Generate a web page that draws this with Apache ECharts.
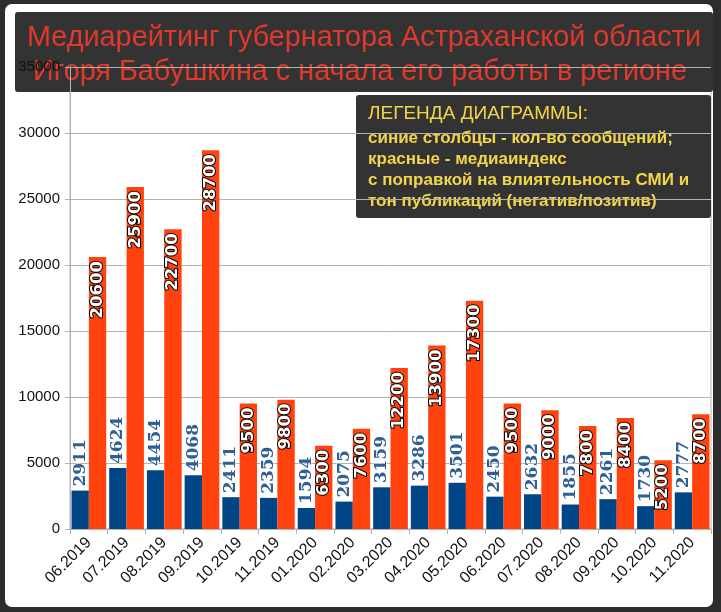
<!DOCTYPE html>
<html>
<head>
<meta charset="utf-8">
<script src="https://cdn.jsdelivr.net/npm/echarts@6/dist/echarts.min.js"></script>
<style>
  html, body { margin: 0; padding: 0; background: #2d2d2d; }
  #chart { width: 721px; height: 612px; }
</style>
</head>
<body>
<div id="chart"></div>
<script>
// месяцы
const months = [
  '06.2019', '07.2019', '08.2019', '09.2019', '10.2019', '11.2019',
  '01.2020', '02.2020', '03.2020', '04.2020', '05.2020', '06.2020',
  '07.2020', '08.2020', '09.2020', '10.2020', '11.2020'
];
// кол-во сообщений (синие)
const messages = [2911, 4624, 4454, 4068, 2411, 2359, 1594, 2075, 3159, 3286, 3501, 2450, 2632, 1855, 2261, 1730, 2777];
// медиаиндекс (красные)
const mediaIndex = [20600, 25900, 22700, 28700, 9500, 9800, 6300, 7600, 12200, 13900, 17300, 9500, 9000, 7800, 8400, 5200, 8700];

const titleLines = [
  'Медиарейтинг губернатора Астраханской области',
  'Игоря Бабушкина с начала его работы в регионе'
];
const legendHead = 'ЛЕГЕНДА ДИАГРАММЫ:';
const legendLines = [
  'синие столбцы - кол-во сообщений;',
  'красные - медиаиндекс',
  'с поправкой на влиятельность СМИ и',
  'тон публикаций (негатив/позитив)'
];

const chart = echarts.init(document.getElementById('chart'));

const option = {
  backgroundColor: '#2d2d2d',
  animation: false,
  grid: {
    left: 70,
    right: 10,
    top: 67,
    bottom: 83,
    show: true,
    borderColor: '#b3b3b3',
    borderWidth: 1
  },
  xAxis: {
    type: 'category',
    data: months,
    axisLine: { lineStyle: { color: '#b3b3b3' } },
    axisTick: { show: true, length: 5, lineStyle: { color: '#b3b3b3' } },
    axisLabel: {
      rotate: 45,
      interval: 0,
      color: '#111',
      fontFamily: 'Liberation Sans',
      fontSize: 16,
      margin: 11
    }
  },
  yAxis: {
    type: 'value',
    min: 0,
    max: 35000,
    interval: 5000,
    axisLine: { show: true, lineStyle: { color: '#b3b3b3' } },
    axisTick: { show: true, length: 5, lineStyle: { color: '#b3b3b3' } },
    axisLabel: {
      color: '#111',
      fontFamily: 'Liberation Sans',
      fontSize: 15,
      margin: 10,
      formatter: (v) => String(v)
    },
    splitLine: { lineStyle: { color: '#b3b3b3' } }
  },
  series: [
    {
      name: 'сообщения',
      type: 'bar',
      data: messages,
      barGap: '0%',
      barCategoryGap: '8%',
      itemStyle: { color: '#004586' },
      label: {
        show: true,
        position: 'top',
        rotate: 90,
        align: 'left',
        verticalAlign: 'middle',
        distance: 4,
        color: '#2f5f94',
        fontFamily: 'DejaVu Serif',
        fontWeight: 'bold',
        fontSize: 17,
        textBorderColor: 'rgba(255,255,255,0.8)',
        textBorderWidth: 1
      }
    },
    {
      name: 'медиаиндекс',
      type: 'bar',
      data: mediaIndex,
      itemStyle: { color: '#ff420e' },
      label: {
        show: true,
        position: 'insideTop',
        rotate: 90,
        align: 'right',
        verticalAlign: 'middle',
        distance: 4,
        color: '#fff',
        fontFamily: 'DejaVu Sans',
        fontWeight: 'bold',
        fontSize: 16.5,
        textBorderColor: '#000',
        textBorderWidth: 2
      }
    }
  ],
  graphic: [
    {
      type: 'rect',
      z: -10,
      silent: true,
      shape: { x: 5, y: 4, width: 708, height: 603, r: 7 },
      style: { fill: '#fff' }
    },
    {
      type: 'group',
      z: 100,
      children: [
        {
          type: 'rect',
          shape: { x: 15, y: 12, width: 698, height: 80, r: 3 },
          style: { fill: '#333333' }
        },
        {
          type: 'text',
          style: {
            x: 364, y: 38,
            text: titleLines[0],
            fill: '#e0392b',
            font: '28.8px "Liberation Sans"',
            align: 'center',
            verticalAlign: 'middle'
          }
        },
        {
          type: 'text',
          style: {
            x: 360, y: 72,
            text: titleLines[1],
            fill: '#e0392b',
            font: '28.8px "Liberation Sans"',
            align: 'center',
            verticalAlign: 'middle'
          }
        }
      ]
    },
    {
      type: 'group',
      z: 100,
      children: [
        {
          type: 'rect',
          shape: { x: 356, y: 95, width: 355, height: 123, r: 3 },
          style: { fill: '#333333' }
        },
        {
          type: 'text',
          style: {
            x: 368, y: 114,
            text: legendHead,
            fill: '#f3d548',
            font: '19px "Liberation Sans"',
            align: 'left',
            verticalAlign: 'middle'
          }
        },
        {
          type: 'text',
          style: {
            x: 368, y: 127.5,
            text: legendLines.join('\n'),
            fill: '#f3d548',
            font: 'bold 17px "Liberation Sans"',
            lineHeight: 21,
            align: 'left',
            verticalAlign: 'top'
          }
        }
      ]
    }
  ]
};

chart.setOption(option);
</script>
</body>
</html>
